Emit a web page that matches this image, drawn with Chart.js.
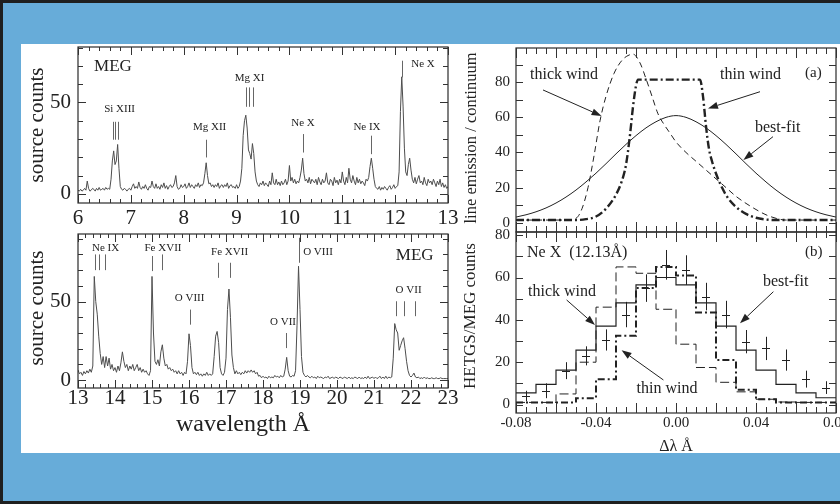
<!DOCTYPE html>
<html>
<head>
<meta charset="utf-8">
<script src="https://cdn.jsdelivr.net/npm/chart.js@4.4.1/dist/chart.umd.min.js"></script>
<style>
html,body{margin:0;padding:0;background:#67acd9;}
#wrap{position:relative;width:840px;height:504px;overflow:hidden;background:#67acd9;}
.bd{position:absolute;background:#1f1f1f;}
#white{position:absolute;left:21px;top:44px;width:819px;height:409px;background:#fff;}
canvas{position:absolute;left:0;top:0;}
</style>
</head>
<body>
<div id="wrap">
  <div class="bd" style="left:0;top:0;width:840px;height:3px"></div>
  <div class="bd" style="left:0;top:0;width:3px;height:504px"></div>
  <div class="bd" style="left:0;bottom:0;width:840px;height:3px"></div>
  <div id="white"></div>
  <canvas id="c1" width="840" height="504"></canvas>
  <canvas id="c2" width="840" height="504"></canvas>
  <canvas id="c3" width="840" height="504"></canvas>
  <canvas id="c4" width="840" height="504"></canvas>
</div>
<script>
// ---------------- DATA ----------------
// MEG spectrum 6-13 A, bins of 0.025 A starting at 6.000
const spec1Start = 6.0, spec1Step = 0.025;
const spec1Counts = [
 2,1.5,2.5,1.5,2,3,2,7,3,1.5,
 2,3,2.5,1.5,3,2,3.5,2,2.5,3,
 2,3.5,2.5,3,2.5,8,18,23.5,16,18,
 27,14,4,2.5,2,3,2.5,1.5,2.5,3,
 2,4,5.5,3,4,3,6.5,3.5,2.5,4,
 3,5,3,2,4,3.5,7,4,3,5.5,
 3,4,2.5,5,3.5,6,3,4.5,2.5,4,
 5,3.5,4,6,10,4,2.5,3,5,3.5,
 4,5.5,3,4,6,3.5,5,4,3,5,
 4,6,3.5,5,4.5,6,11,17,10,5.5,
 6,4,5,3.5,5,4,6,3,4.5,5,
 3.5,5,4,6,3,4.5,5,3.5,4,3,
 5,3,4,7,14,32,40,43,36,24,
 22,19,27.5,22,12,7,5,4,6,5,
 7,4.5,6,5,4,7,5,11.5,6,5,
 8,5,6.5,4.5,7,5,6,8,5,7,
 15.5,7,9,6,8,5.5,7,6,9,13,
 19.5,11,7,8,6,9,5.5,8,7,6,
 8,5,9,6.5,5,8,6,7,11.5,6,
 5,8,7,4.5,9,6,7.5,5,8,6,
 12,7,5,9,6,14,8,6,10,7,
 5,9,6,8,5.5,7,6,4.5,8,7,
 9,15,19.5,14,8,4,3,2.5,4,2,
 3.5,2.5,4,3,2,3.5,4.5,2.5,3.5,5,
 3,4,4.5,12,45,64,48,25,12,10,
 16,19.5,13,8,6,9,5.5,8,10,6,
 7,5,9,6,4.5,8,6,7,5,8,
 6,4,7,5,8,4,6,3.5,5,3,
 4];
// MEG spectrum 13-23 A, bins of 0.04 A starting at 13.00
const spec2Start = 13.0, spec2Step = 0.04;
const spec2Counts = [
 6.5,4,5,3,5.5,4,6,4.5,7,5,
 9,66,50,42,28,17,10,15,8,15,
 9,14,7,10,6,8,5,9,6,11,
 18,12,8,10,6,9,7,10,6,8,
 10,6,8,5,7,5,6,4,3,6,
 66,30,12,10,13,9,18,22.5,14,9,
 10,7,8,6,7,5,6,4,6,4,
 5,3,5,4,12,29.5,22,8,4,5,
 3.5,5,3,4,2.5,4,3,5,3,4,
 3,4,15,28,31,24,8,4,3,5,
 14,45,58,40,16,8,4,6,4,5,
 3.5,5,4,6,4.5,6,5,6.5,5,6,
 4,5,2.5,3,1.5,2.5,1.5,2,1,2.5,
 1.5,2,1.5,3,2,2.5,1.5,3,2,2.5,
 7,14.5,6,2.5,2,3,2.5,6,35,72.5,
 45,15,5,3,2,3,2,1.5,2.5,1.5,
 2,1,2.5,1.5,2,1.5,1,2,1.5,2.5,
 1,1.5,2,1,2,1.5,1,2,1.5,1,
 2,1.5,1,2,1,1.5,1,2,1.5,1,
 2,1,1.5,1,2,1,2.5,1,1.5,2,
 1,2,1,1.5,2.5,1,2,1,2.5,1,
 2,1.5,2,14,36,32,30,19,22,25,
 27,20,12,6,3,2,3,4.5,2,1.5,
 2,1,1.5,1,2,1,1.5,1,1,1.5,
 1,1,1.5,1,1,1.5,1,1,1,1,
 1];

// line identifications: [label, wavelength, count level]
const spec1Ids = [['Si XIII',6.787,46.4],['Mg XII',8.49,36.7],['Mg XI',9.246,63.4],['Ne X',10.257,38.7],['Ne IX',11.467,36.3],['Ne X',12.527,71]];
const spec1Marks = [[6.662,29.6,39.4],[6.705,29.6,39.4],[6.749,29.6,39.4],[8.414,19.9,29.6],[9.184,47.6,58.2],[9.241,47.6,58.2],[9.311,47.6,58.2],[10.249,22.6,32.7],[11.543,21.7,31.8],[12.129,63.7,72.8]];
const spec2Ids = [['Ne IX',13.746,84.2],['Fe XVII',15.297,84.2],['Fe XVII',17.097,81.5],['O VIII',16.016,51.9],['O VII',18.54,36.8],['O VIII',19.486,81.5],['O VII',21.935,57.6]];
const spec2Marks = [[13.449,70,80],[13.568,70,80],[13.719,70,80],[15.008,69.4,79],[15.27,70,80],[16.784,65.1,74.7],[17.097,65.1,74.7],[16.016,35.3,44.9],[18.63,20.4,30],[18.962,74.7,90.6],[21.584,40.7,50.2],[21.8,40.7,50.2],[22.108,40.7,50.2]];

// (a) model line profiles
const bestX = [-0.08,-0.075,-0.07,-0.065,-0.06,-0.055,-0.05,-0.045,-0.04,-0.035,-0.03,-0.025,-0.02,-0.015,-0.01,-0.005,0,0.005,0.01,0.015,0.02,0.025,0.03,0.035,0.04,0.045,0.05,0.055,0.06,0.065,0.07,0.075,0.08];
const bestY = [3.2,4.5,6.2,8.4,11.2,14.6,18.6,23.2,28.2,33.6,39.2,44.6,49.6,54,57.5,60,61,60,57.5,54,49.6,44.6,39.2,33.6,28.2,23.2,18.6,14.6,11.2,8.4,6.2,4.5,3.2];
const thickX = [-0.08,-0.07,-0.06,-0.055,-0.05,-0.047,-0.044,-0.041,-0.038,-0.035,-0.031,-0.027,-0.024,-0.0215,-0.018,-0.015,-0.012,-0.009,-0.006,-0.003,0,0.005,0.01,0.015,0.02,0.025,0.03,0.035,0.04,0.045,0.05,0.055,0.06,0.07,0.08];
const thickY = [1.5,1.5,1.5,1.5,2.5,8,20,38,58,72,85,92.5,95.2,96,91,82,72,62,56,51,46,40,35,30,25,20,15,11,7.5,4.5,2.5,1.5,1.5,1.5,1.5];
const thinX = [-0.08,-0.06,-0.05,-0.045,-0.04,-0.035,-0.03,-0.027,-0.025,-0.023,-0.0215,-0.02,-0.019,0.012,0.0135,0.015,0.0165,0.018,0.02,0.023,0.026,0.03,0.035,0.04,0.045,0.05,0.06,0.08];
const thinY = [1.5,1.5,1.5,2,3.5,8,16,24,33,50,66,78,81.5,81.5,72,55,42,35,28,20,14,9,5,2.8,1.8,1.5,1.5,1.5];

// (b) Ne X 12.13 A histogram, 0.01 A bins
const binEdges = [-0.08,-0.07,-0.06,-0.05,-0.04,-0.03,-0.02,-0.01,0,0.01,0.02,0.03,0.04,0.05,0.06,0.07,0.08];
const histBest  = [5.5,9.5,16.3,25.7,37,48,56.5,60,56.5,48,37,25.7,16.3,9.5,5.5,3.2];
const histThick = [1,1,5,20,46,65,62,45,28.5,17.5,10.5,6,2.5,1.2,1,1];
const histThin  = [1,1,1,3,12,32.5,55,65,61,43.5,21,7,2.5,1,1,1];
const obsX   = [-0.075,-0.065,-0.055,-0.045,-0.035,-0.025,-0.015,-0.005,0.005,0.015,0.025,0.035,0.045,0.055,0.065,0.075];
const obsY   = [4,6.5,16,23,30.5,42.5,55,66,63.5,51,42.5,29.7,26.5,21,12,8];
const obsErr = [2.5,3.5,4,4.5,5,6,6.5,7,7,6.5,6.5,5.5,5.5,5,4,3];

// tick labels
const ticks1X = [6,7,8,9,10,11,12,13];
const ticks2X = [13,14,15,16,17,18,19,20,21,22,23];
const ticksSpecY = [0,50];
const ticksProfY = [0,20,40,60,80];
const ticksBX = [-0.08,-0.04,0,0.04,0.08];

// ---------------- DRAWING ----------------
const FONT = "'Liberation Serif','Times New Roman',serif";
const INK = '#222';

function fitW(w){ return s => { s.width = w; s.paddingLeft = s.paddingRight = s.paddingTop = s.paddingBottom = 0; }; }
function fitH(h){ return s => { s.height = h; s.paddingLeft = s.paddingRight = s.paddingTop = s.paddingBottom = 0; }; }
function setTicks(vals){ return s => { s.ticks = vals.map(v => ({value: v})); }; }

function drawArrow(ctx, x0, y0, x1, y1) {
  const ang = Math.atan2(y1 - y0, x1 - x0), L = 10, W = 3.5;
  const bx = x1 - L * Math.cos(ang), by = y1 - L * Math.sin(ang);
  ctx.strokeStyle = INK; ctx.fillStyle = INK; ctx.lineWidth = 1; ctx.setLineDash([]);
  ctx.beginPath(); ctx.moveTo(x0, y0); ctx.lineTo(bx, by); ctx.stroke();
  ctx.beginPath(); ctx.moveTo(x1, y1);
  ctx.lineTo(bx - W * Math.sin(ang), by + W * Math.cos(ang));
  ctx.lineTo(bx + W * Math.sin(ang), by - W * Math.cos(ang));
  ctx.closePath(); ctx.fill();
}

const sciPlugin = {
  id: 'sci',
  afterDatasetsDraw(chart, args, o) {
    const ctx = chart.ctx, a = chart.chartArea, xs = chart.scales.x, ys = chart.scales.y;
    const X = v => xs.getPixelForValue(v), Y = v => ys.getPixelForValue(v);
    ctx.save();
    ctx.setLineDash([]);
    // error bars
    chart.data.datasets.forEach(ds => {
      if (!ds.errors) return;
      ctx.strokeStyle = INK; ctx.lineWidth = 1;
      ctx.beginPath();
      ds.data.forEach((p, i) => {
        const px = Math.round(X(p.x)) + 0.5, py = Math.round(Y(p.y)) + 0.5;
        ctx.moveTo(px, Y(p.y + ds.errors[i])); ctx.lineTo(px, Y(p.y - ds.errors[i]));
        ctx.moveTo(X(p.x - o.cap), py); ctx.lineTo(X(p.x + o.cap), py);
      });
      ctx.stroke();
    });
    // frame
    ctx.strokeStyle = '#2a2a2a'; ctx.lineWidth = 1.2;
    ctx.strokeRect(a.left, a.top, a.right - a.left, a.bottom - a.top);
    // ticks
    ctx.lineWidth = 1; ctx.strokeStyle = '#333';
    ctx.beginPath();
    const isMaj = (v, m) => Math.abs(v / m - Math.round(v / m)) < 1e-6;
    if (o.xt) {
      const t = o.xt, n = Math.round((t.max - t.min) / t.minor);
      for (let k = 0; k <= n; k++) {
        const v = t.min + k * t.minor, len = isMaj(v, t.major) ? t.majLen : t.minLen;
        const p = Math.round(X(v)) + 0.5;
        ctx.moveTo(p, a.bottom); ctx.lineTo(p, a.bottom - len);
        ctx.moveTo(p, a.top); ctx.lineTo(p, a.top + len);
      }
    }
    if (o.yt) {
      const t = o.yt, n = Math.round((t.max - t.min) / t.minor);
      for (let k = 0; k <= n; k++) {
        const v = t.min + k * t.minor, len = isMaj(v, t.major) ? t.majLen : t.minLen;
        const p = Math.round(Y(v)) + 0.5;
        ctx.moveTo(a.left, p); ctx.lineTo(a.left + len, p);
        ctx.moveTo(a.right, p); ctx.lineTo(a.right - len, p);
      }
    }
    ctx.stroke();
    // line id markers
    if (o.marks) {
      ctx.strokeStyle = '#666'; ctx.lineWidth = 1;
      ctx.beginPath();
      o.marks.forEach(m => { const px = Math.round(X(m[0])) + 0.5; ctx.moveTo(px, Y(m[1])); ctx.lineTo(px, Y(m[2])); });
      ctx.stroke();
    }
    // texts in data coords
    (o.texts || []).forEach(t => {
      ctx.font = t.font; ctx.fillStyle = INK;
      ctx.textAlign = t.align || 'center'; ctx.textBaseline = 'middle';
      ctx.fillText(t.t, X(t.x), Y(t.y));
    });
    // arrows
    (o.arrows || []).forEach(ar => drawArrow(ctx, X(ar[0]), Y(ar[1]), X(ar[2]), Y(ar[3])));
    // axis titles
    (o.titles || []).forEach(t => {
      ctx.save();
      ctx.font = t.font; ctx.fillStyle = INK; ctx.textAlign = 'center'; ctx.textBaseline = 'alphabetic';
      ctx.translate(t.px, t.py);
      if (t.rot) ctx.rotate(-Math.PI / 2);
      ctx.fillText(t.t, 0, 0);
      ctx.restore();
    });
    ctx.restore();
  }
};

function makeOptions(cfg) {
  const tickFont = {family: FONT, size: cfg.tickSize, lineHeight: 1};
  return {
    animation: false, responsive: false, devicePixelRatio: 1, events: [],
    layout: {autoPadding: false, padding: {left: 0, top: cfg.area[1], right: 840 - cfg.area[2], bottom: 0}},
    scales: {
      x: {
        type: 'linear', min: cfg.xr[0], max: cfg.xr[1],
        grid: {display: false, drawTicks: false}, border: {display: false},
        afterFit: fitH(504 - cfg.area[3]), afterBuildTicks: setTicks(cfg.xTicks),
        ticks: {display: cfg.xTicks.length > 0, font: tickFont, color: INK, padding: cfg.xPad, maxRotation: 0, minRotation: 0, autoSkip: false,
                callback: cfg.xFmt || (v => String(v))}
      },
      y: {
        type: 'linear', min: cfg.yr[0], max: cfg.yr[1],
        grid: {display: false, drawTicks: false}, border: {display: false},
        afterFit: fitW(cfg.area[0]), afterBuildTicks: setTicks(cfg.yTicks),
        ticks: {font: tickFont, color: INK, padding: cfg.yPad, autoSkip: false, callback: v => String(v)}
      }
    },
    plugins: {legend: {display: false}, tooltip: {enabled: false}, sci: cfg.sci}
  };
}

const idFont = `11px ${FONT}`;
const annFont = `16px ${FONT}`;

// Panel 1: 6-13 A
new Chart(document.getElementById('c1'), {
  type: 'line',
  data: {datasets: [{data: spec1Counts.map((c, i) => ({x: spec1Start + i * spec1Step, y: c})),
    borderColor: '#4d4d4d', borderWidth: 1, pointRadius: 0, tension: 0}]},
  options: makeOptions({
    area: [78, 47, 448, 203], xr: [6, 13], yr: [-5, 80.3], xTicks: ticks1X, yTicks: ticksSpecY,
    tickSize: 21, xPad: 5, yPad: 7,
    sci: {
      xt: {min: 6, max: 13, minor: 0.2, major: 1, minLen: 4, majLen: 8},
      yt: {min: 0, max: 80, minor: 10, major: 50, minLen: 5, majLen: 8},
      marks: spec1Marks,
      texts: spec1Ids.map(d => ({t: d[0], x: d[1], y: d[2], font: idFont}))
        .concat([{t: 'MEG', x: 6.662, y: 69.7, font: `17px ${FONT}`}]),
      titles: [{t: 'source counts', px: 43, py: 125, rot: true, font: `21px ${FONT}`}]
    }
  }),
  plugins: [sciPlugin]
});

// Panel 2: 13-23 A
new Chart(document.getElementById('c2'), {
  type: 'line',
  data: {datasets: [{data: spec2Counts.map((c, i) => ({x: spec2Start + i * spec2Step, y: c})),
    borderColor: '#4d4d4d', borderWidth: 1, pointRadius: 0, tension: 0}]},
  options: makeOptions({
    area: [78, 234, 448, 388], xr: [13, 23], yr: [-5, 93], xTicks: ticks2X, yTicks: ticksSpecY,
    tickSize: 21, xPad: 0, yPad: 7,
    sci: {
      xt: {min: 13, max: 23, minor: 0.2, major: 1, minLen: 4, majLen: 8},
      yt: {min: 0, max: 90, minor: 10, major: 50, minLen: 5, majLen: 8},
      marks: spec2Marks,
      texts: spec2Ids.map(d => ({t: d[0], x: d[1], y: d[2], font: idFont}))
        .concat([{t: 'MEG', x: 22.1, y: 79.3, font: `17px ${FONT}`}]),
      titles: [{t: 'source counts', px: 43, py: 308, rot: true, font: `21px ${FONT}`},
               {t: 'wavelength Å', px: 243, py: 431, rot: false, font: `24px ${FONT}`}]
    }
  }),
  plugins: [sciPlugin]
});

// Panel (a): model profiles
const pts = (xa, ya) => xa.map((x, i) => ({x: x, y: ya[i]}));
new Chart(document.getElementById('c3'), {
  type: 'line',
  data: {datasets: [
    {data: pts(bestX, bestY), borderColor: INK, borderWidth: 1, pointRadius: 0, cubicInterpolationMode: 'monotone'},
    {data: pts(thickX, thickY), borderColor: INK, borderWidth: 1, borderDash: [6, 4], pointRadius: 0, cubicInterpolationMode: 'monotone'},
    {data: pts(thinX, thinY), borderColor: INK, borderWidth: 2.4, borderDash: [8, 3, 2, 3], pointRadius: 0, cubicInterpolationMode: 'monotone'}
  ]},
  options: makeOptions({
    area: [516, 48, 836, 232], xr: [-0.08, 0.08], yr: [-5.3, 99.5], xTicks: [], yTicks: ticksProfY,
    tickSize: 15, xPad: 3, yPad: 6,
    sci: {
      xt: {min: -0.08, max: 0.08, minor: 0.005, major: 0.02, minLen: 6, majLen: 10},
      yt: {min: 0, max: 90, minor: 10, major: 20, minLen: 7, majLen: 7},
      texts: [
        {t: 'thick wind', x: -0.073, y: 84.1, align: 'left', font: annFont},
        {t: 'thin wind', x: 0.022, y: 84.1, align: 'left', font: annFont},
        {t: 'best-fit', x: 0.0395, y: 53.9, align: 'left', font: annFont},
        {t: '(a)', x: 0.0645, y: 85.3, align: 'left', font: `15px ${FONT}`}
      ],
      arrows: [[-0.0665, 75.6, -0.0372, 60.8], [0.042, 74.6, 0.016, 65.1], [0.0485, 49, 0.0337, 35.7]],
      titles: [{t: 'line emission / continuum', px: 476, py: 138, rot: true, font: `16.5px ${FONT}`}]
    }
  }),
  plugins: [sciPlugin]
});

// Panel (b): Ne X histogram
const steps = vals => binEdges.map((e, i) => ({x: e, y: vals[Math.min(i, vals.length - 1)]}));
new Chart(document.getElementById('c4'), {
  type: 'line',
  data: {datasets: [
    {data: steps(histBest), borderColor: INK, borderWidth: 1.2, pointRadius: 0, stepped: true},
    {data: steps(histThick), borderColor: INK, borderWidth: 1, borderDash: [9, 4], pointRadius: 0, stepped: true},
    {data: steps(histThin), borderColor: INK, borderWidth: 2, borderDash: [7, 3, 2, 3], pointRadius: 0, stepped: true},
    {data: pts(obsX, obsY), errors: obsErr, showLine: false, pointRadius: 0, borderColor: INK}
  ]},
  options: makeOptions({
    area: [516, 232, 836, 413], xr: [-0.08, 0.08], yr: [-4, 81.5], xTicks: ticksBX, yTicks: ticksProfY,
    tickSize: 15, xPad: 3, yPad: 6, xFmt: v => Number(v).toFixed(2),
    sci: {
      cap: 0.002,
      xt: {min: -0.08, max: 0.08, minor: 0.005, major: 0.02, minLen: 6, majLen: 10},
      yt: {min: 0, max: 80, minor: 10, major: 20, minLen: 7, majLen: 7},
      texts: [
        {t: 'Ne X  (12.13Å)', x: -0.0745, y: 71.7, align: 'left', font: annFont},
        {t: '(b)', x: 0.0645, y: 72, align: 'left', font: `15px ${FONT}`},
        {t: 'best-fit', x: 0.0435, y: 57.9, align: 'left', font: annFont},
        {t: 'thick wind', x: -0.074, y: 53.3, align: 'left', font: annFont},
        {t: 'thin wind', x: -0.0197, y: 7.3, align: 'left', font: annFont}
      ],
      arrows: [[0.0487, 53.3, 0.032, 38.4], [-0.0547, 49.4, -0.0405, 37.6], [-0.0063, 11.6, -0.0272, 25.7]],
      titles: [{t: 'HETGS/MEG counts', px: 475, py: 316, rot: true, font: `17px ${FONT}`},
               {t: 'Δλ Å', px: 676, py: 451, rot: false, font: `16px ${FONT}`}]
    }
  }),
  plugins: [sciPlugin]
});
</script>
</body>
</html>
